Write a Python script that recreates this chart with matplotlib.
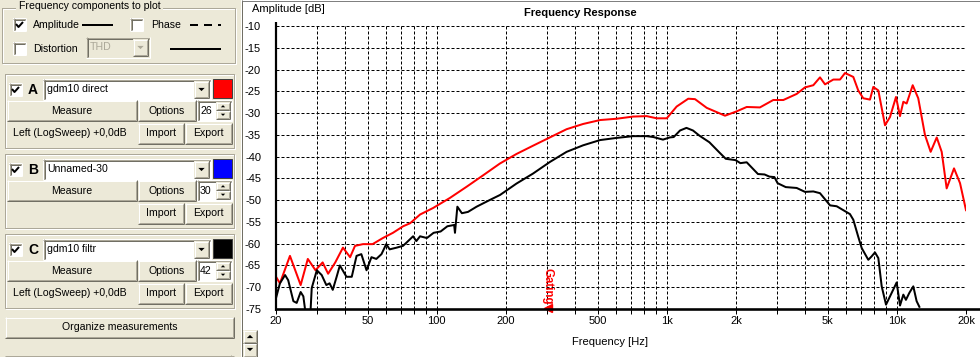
import matplotlib
matplotlib.use('Agg')
import matplotlib.pyplot as plt
from matplotlib.patches import Rectangle, Polygon
import matplotlib.transforms as mtrans

plt.rcParams['font.family'] = ['Liberation Sans', 'DejaVu Sans']

# ---------------- data ----------------
freq_A = [20, 20.8, 23.0, 25.6, 27.5, 29.7, 31.9, 33.7, 36.2, 39.1, 42.0, 44.1, 47.8, 52.6,
          58.3, 64.5, 71.4, 76.6, 84.6, 96.4, 114, 135, 159, 188, 222, 262, 310, 367, 433,
          513, 606, 714, 818, 904, 1000, 1104, 1240, 1327, 1492, 1792, 2014, 2226, 2541,
          2904, 3212, 3672, 3990, 4337, 4637, 4876, 5300, 5667, 5956, 6472, 6800, 7152,
          7648, 7907, 8314, 8890, 9346, 9924, 10330, 10680, 11040, 11730, 12400, 13260,
          14040, 14920, 15680, 16480, 17740, 18840, 20000]
db_A = [-67.6, -69.1, -62.8, -69.5, -63.5, -66.1, -64.3, -66.9, -64.3, -60.9, -63.1, -60.5,
        -60.1, -60.1, -58.7, -57.5, -56.0, -55.3, -53.3, -51.8, -49.5, -46.9, -44.3, -41.6,
        -39.4, -37.5, -35.6, -33.7, -32.5, -31.6, -31.3, -30.8, -30.7, -31.2, -31.2, -28.5,
        -26.7, -26.8, -28.8, -30.6, -29.6, -28.6, -28.7, -27.0, -27.0, -25.6, -24.1, -23.6,
        -21.8, -23.4, -22.3, -22.3, -20.8, -21.7, -24.8, -26.6, -26.9, -24.0, -24.8, -32.8,
        -30.9, -26.3, -30.7, -27.4, -27.8, -23.6, -26.6, -35.0, -38.9, -35.6, -38.9, -47.3,
        -42.7, -46.1, -52.3]

freq_C = [20, 20.8, 21.9, 22.6, 23.8, 24.6, 25.6, 26.3, 27.2, 28.1, 28.6, 30.1, 31.6, 33.1,
          34.2, 35.3, 36.7, 37.9, 40.5, 42.7, 44.8, 47.0, 49.5, 52.0, 54.6, 57.5, 60.3, 62.4,
          67.0, 71.3, 73.7, 78.9, 81.5, 84.6, 90.6, 96.9, 103.9, 111.2, 119.0, 120.0, 122.9,
          128.6, 136.7, 149, 169.5, 188.5, 222, 262, 311, 367, 433, 513, 606, 714, 818, 874,
          963, 1029, 1072, 1142, 1218, 1300, 1388, 1532, 1690, 1805, 1990, 2090, 2226, 2492,
          2662, 2797, 2937, 3033, 3290, 3672, 3990, 4337, 4637, 5128, 5480, 5855, 6258, 6472,
          6800, 7040, 7520, 7780, 8040, 8314, 8600, 8980, 9346, 9990, 10330, 10680, 10960,
          11340, 11800, 12200, 12540]
db_C = [-72.5, -69.1, -67.2, -68.4, -73.2, -73.6, -71.1, -72.1, -78.0, -78.0, -70.2, -66.1,
        -67.2, -69.5, -69.1, -70.6, -67.6, -65.0, -67.6, -67.6, -62.8, -62.4, -66.1, -63.1,
        -63.5, -62.4, -60.1, -61.3, -60.9, -60.5, -59.8, -58.3, -59.4, -58.3, -58.7, -57.5,
        -57.2, -56.0, -55.7, -57.5, -51.5, -53.0, -52.7, -51.5, -50.0, -48.8, -46.2, -43.9,
        -41.2, -38.9, -37.4, -36.2, -35.7, -35.3, -35.3, -35.5, -36.1, -35.6, -35.5, -34.0,
        -33.4, -34.0, -35.2, -36.7, -39.0, -40.5, -40.8, -41.5, -41.3, -44.0, -44.1, -44.6,
        -44.7, -46.1, -47.0, -47.2, -48.1, -48.0, -48.4, -51.2, -51.4, -52.3, -53.2, -54.5,
        -58.4, -61.0, -63.7, -62.9, -62.0, -63.3, -69.8, -74.0, -72.1, -68.9, -74.2, -71.7,
        -72.9, -71.3, -69.8, -73.2, -74.5]

x_grid = [20, 30, 40, 50, 60, 70, 80, 90, 100, 200, 300, 400, 500, 600, 700, 800, 900,
          1000, 2000, 3000, 4000, 5000, 6000, 7000, 8000, 9000, 10000, 20000]
x_labeled = {20: '20', 50: '50', 100: '100', 200: '200', 500: '500', 1000: '1k',
             2000: '2k', 5000: '5k', 10000: '10k', 20000: '20k'}
y_ticks = [-75, -70, -65, -60, -55, -50, -45, -40, -35, -30, -25, -20, -15, -10]
gating_freq = 300

channels = [
    ('A', 'gdm10 direct', '#FF0000', '26', 'Left (LogSweep) +0,0dB'),
    ('B', 'Unnamed-30', '#0000FF', '30', ''),
    ('C', 'gdm10 filtr', '#000000', '42', 'Left (LogSweep) +0,0dB'),
]

# ---------------- style ----------------
W, H = 980, 357
PX = 0.72
FACE = '#ECE9D8'
SH1 = '#716F64'
SH2 = '#ACA899'
FS = 7.6

fig = plt.figure(figsize=(W / 100, H / 100), dpi=100)
bg = fig.add_axes([0, 0, 1, 1], zorder=0)
bg.set_xlim(0, W)
bg.set_ylim(H, 0)
bg.axis('off')


def rect(x, y, w, h, fc, ec='none', lw=0, z=1):
    bg.add_patch(Rectangle((x, y), w, h, facecolor=fc, edgecolor=ec, linewidth=lw * PX, zorder=z))


def line(xs, ys, c, lw=1, z=2, ls='-'):
    bg.plot(xs, ys, color=c, lw=lw * PX, zorder=z, solid_capstyle='butt', ls=ls,
            dash_capstyle='butt')


def txt(x, y, s, ha='left', color='black', size=FS, bold=False, z=5):
    bg.text(x, y, s, ha=ha, va='center', color=color, fontsize=size,
            fontweight='bold' if bold else 'normal', zorder=z)


def raised(x, y, w, h, z=2):
    rect(x, y, w, h, FACE, z=z)
    line([x, x + w], [y + 0.5, y + 0.5], 'white', z=z + 0.1)
    line([x + 0.5, x + 0.5], [y, y + h], 'white', z=z + 0.1)
    line([x, x + w], [y + h - 0.5, y + h - 0.5], SH1, z=z + 0.1)
    line([x + w - 0.5, x + w - 0.5], [y, y + h], SH1, z=z + 0.1)
    line([x + 1, x + w - 1], [y + h - 1.5, y + h - 1.5], SH2, z=z + 0.1)
    line([x + w - 1.5, x + w - 1.5], [y + 1, y + h - 1], SH2, z=z + 0.1)


def button(x, y, w, h, label, z=2):
    raised(x, y, w, h, z)
    txt(x + w / 2, y + h / 2, label, ha='center', z=z + 1)


def sunken(x, y, w, h, fc='white', z=2):
    rect(x, y, w, h, fc, z=z)
    line([x, x + w], [y + 0.5, y + 0.5], SH2, z=z + 0.1)
    line([x + 0.5, x + 0.5], [y, y + h], SH2, z=z + 0.1)
    line([x + 1, x + w - 1], [y + 1.5, y + 1.5], SH1, z=z + 0.1)
    line([x + 1.5, x + 1.5], [y + 1, y + h - 1], SH1, z=z + 0.1)
    line([x, x + w], [y + h - 0.5, y + h - 0.5], 'white', z=z + 0.1)
    line([x + w - 0.5, x + w - 0.5], [y, y + h], 'white', z=z + 0.1)


def tri(cx, cy, up, color='black', s=3.0, z=4):
    if up:
        pts = [(cx - s, cy + s / 2), (cx + s, cy + s / 2), (cx, cy - s / 2)]
    else:
        pts = [(cx - s, cy - s / 2), (cx + s, cy - s / 2), (cx, cy + s / 2)]
    bg.add_patch(Polygon(pts, closed=True, facecolor=color, edgecolor='none', zorder=z))


def checkbox(x, y, checked):
    sunken(x, y, 13, 13, 'white')
    if checked:
        line([x + 3, x + 5.5, x + 10], [y + 6, y + 9, y + 4], 'black', lw=2, z=4)


def combo(x, y, w, h, text, disabled=False):
    sunken(x, y, w, h, FACE if disabled else 'white')
    raised(x + w - 17, y + 2, 15, h - 4, z=3)
    tri(x + w - 9.5, y + h / 2, False, SH2 if disabled else 'black', s=3.2, z=5)
    txt(x + 4, y + h / 2, text, color=SH2 if disabled else 'black')


def groupbox(x, y, w, h):
    line([x, x + w, x + w, x, x], [y + 0.5, y + 0.5, y + h, y + h, y + 0.5], SH2, z=1.5)
    line([x + 1, x + w + 1, x + w + 1, x + 1, x + 1],
         [y + 1.5, y + 1.5, y + h + 1, y + h + 1, y + 1.5], 'white', z=1.4)


# panel background and chart area
rect(0, 0, 241, H, FACE, z=0.5)
rect(242, 0, W - 242, H, 'white', z=0.5)
line([241.5, 241.5], [0, H], SH1, z=1)
line([242, W], [0.5, 0.5], '#808080', z=1)

# group: frequency components
groupbox(2, 7, 233, 56)
rect(16, 1, 147, 11, FACE, z=1.6)
txt(19, 6, 'Frequency components to plot')
checkbox(13, 18, True)
txt(33, 24.5, 'Amplitude')
line([82, 113], [24.5, 24.5], 'black', lw=2)
checkbox(130, 18, False)
txt(151, 24.5, 'Phase')
line([190, 221], [24.5, 24.5], 'black', lw=2, ls=(0, (4, 3)))
checkbox(13, 42, False)
txt(33, 48.5, 'Distortion')
combo(86, 37, 64, 21, 'THD', disabled=True)
line([170, 221], [48.5, 48.5], 'black', lw=2)

# channel groups
for i, (letter, name, col, num, info) in enumerate(channels):
    y0 = 73 + 80 * i
    groupbox(5, y0, 229, 75)
    checkbox(9, y0 + 10, True)
    txt(33, y0 + 16.5, letter, ha='center', size=10, bold=True)
    combo(43, y0 + 6, 168, 21, name)
    rect(213, y0 + 6, 19, 19, col, ec='#404040', lw=1, z=3)
    button(7, y0 + 27, 130, 21, 'Measure')
    button(138, y0 + 27, 58, 21, 'Options')
    sunken(197, y0 + 27, 35, 21, 'white')
    txt(200, y0 + 37.5, num)
    raised(216, y0 + 29, 14, 8.5, z=3)
    raised(216, y0 + 37.5, 14, 8.5, z=3)
    tri(223, y0 + 33.2, True, s=2.2, z=5)
    tri(223, y0 + 41.8, False, s=2.2, z=5)
    if info:
        txt(13, y0 + 60, info)
    button(138, y0 + 50, 46, 21, 'Import')
    button(185, y0 + 50, 47, 21, 'Export')

button(5, 317, 229, 21, 'Organize measurements')
line([5, 234], [355.5, 355.5], SH2, z=1.5)
line([230.5, 230.5], [355, H], SH2, z=1.5)

# spinner at bottom-left of chart area
raised(243, 330, 14, 13, z=3)
raised(243, 343, 14, 14, z=3)
tri(250, 336.5, True, s=3.2, z=5)
tri(250, 349.5, False, s=3.2, z=5)

# ---------------- chart ----------------
L, R, T, B = 276, 966, 26, 309
ax = fig.add_axes([L / W, (H - B) / H, (R - L) / W, (B - T) / H], zorder=1)
ax.set_facecolor('none')
ax.set_xscale('log')
ax.set_xlim(20, 20000)
ax.set_ylim(-75, -10)
for s in ax.spines.values():
    s.set_visible(False)

ax.set_xticks(x_grid)
ax.set_xticklabels([x_labeled.get(v, '') for v in x_grid])
ax.xaxis.set_minor_locator(matplotlib.ticker.NullLocator())
ax.set_yticks(y_ticks)
ax.set_yticklabels([str(v) for v in y_ticks])
ax.tick_params(axis='x', direction='out', length=5 * PX, width=1 * PX, pad=1.2,
               labelsize=8, colors='black')
ax.tick_params(axis='y', length=0, pad=15 * PX, labelsize=8)
ax.grid(True, which='major', color='black', lw=1 * PX, ls=(0, (3, 2)))

ax.plot(freq_A, db_A, color='#FF0000', lw=2 * PX, zorder=3)
ax.plot(freq_C, db_C, color='#000000', lw=2 * PX, zorder=3)

# gating marker
off = mtrans.offset_copy(ax.transData, fig=fig, x=1, y=5, units='dots')
ax.text(gating_freq, -75, 'Gating', rotation=-90, color='#FF0000', fontsize=8.3,
        fontweight='bold', ha='center', va='bottom', transform=off, zorder=6, clip_on=False)
ax.plot([gating_freq], [-75], marker='<', color='#FF0000', markersize=6, clip_on=False,
        zorder=6, transform=mtrans.offset_copy(ax.transData, fig=fig, x=1, y=1, units='dots'))

# overlay: thick axis lines and labels
ov = fig.add_axes([0, 0, 1, 1], zorder=2)
ov.set_xlim(0, W)
ov.set_ylim(H, 0)
ov.axis('off')
ov.set_facecolor('none')
ov.plot([L, L], [22, B + 1.5], color='black', lw=2.2 * PX, solid_capstyle='butt')
ov.plot([L - 1, W], [B, B], color='black', lw=2.6 * PX, solid_capstyle='butt')
ov.text(252, 8.5, 'Amplitude [dB]', ha='left', va='center', fontsize=8)
ov.text(580, 13.5, 'Frequency Response', ha='center', va='center', fontsize=8,
        fontweight='bold')
ov.text(609.5, 342, 'Frequency [Hz]', ha='center', va='center', fontsize=8)

fig.savefig('out.png', dpi=100)
